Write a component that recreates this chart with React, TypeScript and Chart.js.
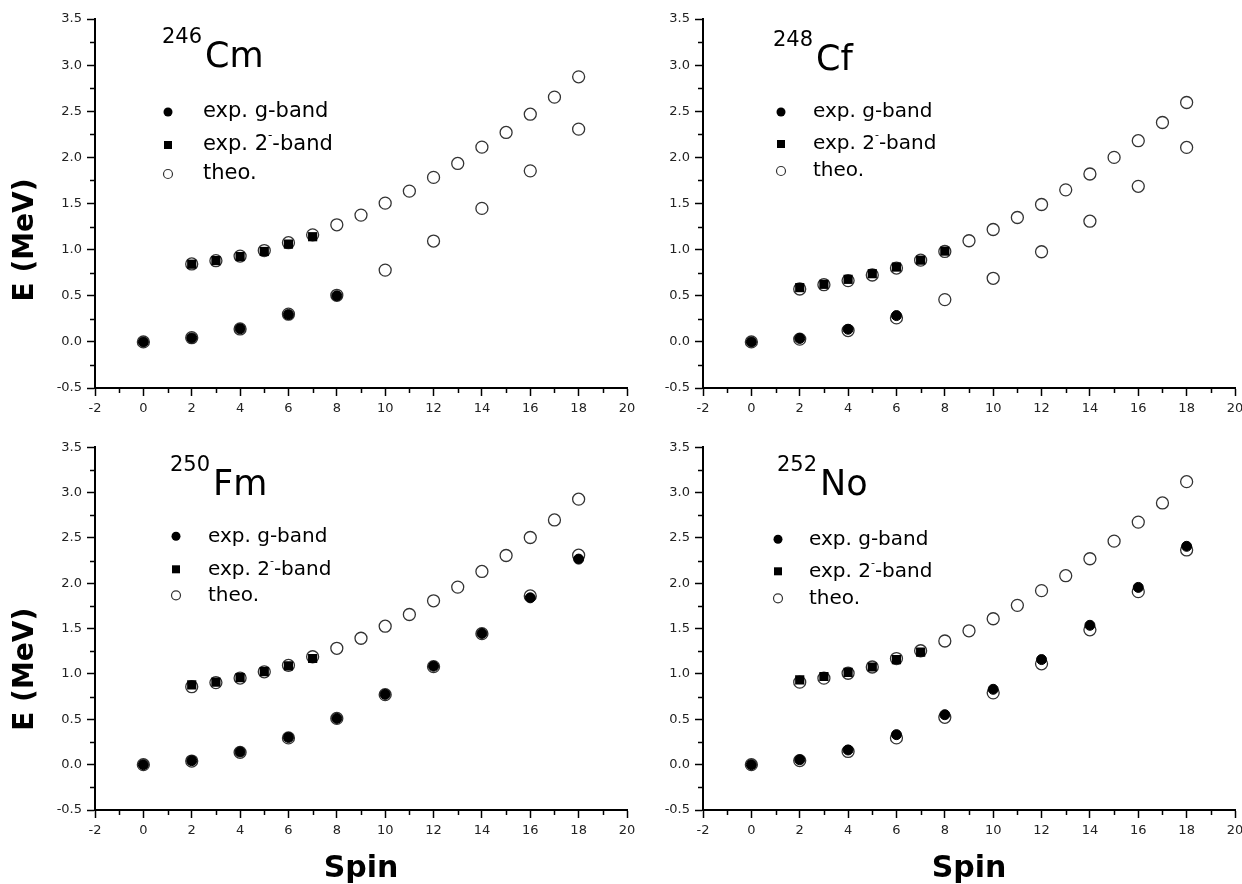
import React, { useEffect, useRef } from "react";
import { Chart, registerables } from "chart.js";

Chart.register(...registerables);

// Spin values of the two band branches
const gSpins = [0, 2, 4, 6, 8, 10, 12, 14, 16, 18];
const bandSpins = [2, 3, 4, 5, 6, 7, 8, 9, 10, 11, 12, 13, 14, 15, 16, 17, 18];

// 246Cm
const cmExpGSpins = [0, 2, 4, 6, 8];
const cmExpG = [0, 0.043, 0.142, 0.296, 0.5];
const cmExpBandSpins = [2, 3, 4, 5, 6, 7];
const cmExpBand = [0.842, 0.881, 0.925, 0.98, 1.06, 1.14];
const cmTheoG = [0, 0.045, 0.14, 0.3, 0.505, 0.778, 1.093, 1.447, 1.854, 2.306];
const cmTheoBand = [0.845, 0.88, 0.93, 0.99, 1.075, 1.16, 1.269, 1.374, 1.504, 1.634, 1.783, 1.934, 2.111, 2.27, 2.468, 2.653, 2.873];

// 248Cf
const cfExpGSpins = [0, 2, 4, 6];
const cfExpG = [0, 0.037, 0.137, 0.285];
const cfExpBandSpins = [2, 3, 4, 5, 6, 7, 8];
const cfExpBand = [0.588, 0.624, 0.678, 0.739, 0.811, 0.886, 0.984];
const cfTheoG = [0, 0.03, 0.123, 0.26, 0.458, 0.689, 0.977, 1.308, 1.686, 2.108];
const cfTheoBand = [0.573, 0.62, 0.664, 0.725, 0.8, 0.886, 0.98, 1.096, 1.218, 1.348, 1.489, 1.648, 1.82, 2.0, 2.181, 2.378, 2.595];

// 250Fm
const fmExpGSpins = [0, 2, 4, 6, 8, 10, 12, 14, 16, 18];
const fmExpG = [0, 0.044, 0.14, 0.3, 0.51, 0.775, 1.085, 1.447, 1.84, 2.267];
const fmExpBandSpins = [2, 3, 4, 5, 6, 7];
const fmExpBand = [0.88, 0.91, 0.96, 1.025, 1.09, 1.171];
const fmTheoG = [0, 0.04, 0.136, 0.295, 0.51, 0.772, 1.081, 1.445, 1.861, 2.31];
const fmTheoBand = [0.86, 0.905, 0.955, 1.024, 1.095, 1.19, 1.283, 1.394, 1.527, 1.656, 1.807, 1.958, 2.131, 2.307, 2.505, 2.699, 2.928];

// 252No
const noExpGSpins = [0, 2, 4, 6, 8, 10, 12, 14, 16, 18];
const noExpG = [0, 0.054, 0.162, 0.331, 0.551, 0.831, 1.159, 1.537, 1.955, 2.408];
const noExpBandSpins = [2, 3, 4, 5, 6, 7];
const noExpBand = [0.936, 0.972, 1.018, 1.077, 1.159, 1.242];
const noTheoG = [0, 0.045, 0.146, 0.295, 0.522, 0.792, 1.112, 1.487, 1.908, 2.368];
const noTheoBand = [0.91, 0.954, 1.008, 1.077, 1.17, 1.256, 1.364, 1.476, 1.609, 1.757, 1.919, 2.084, 2.271, 2.465, 2.675, 2.886, 3.121];

// Axis ranges and labels
const spinMin = -2;
const spinMax = 20;
const energyMin = -0.5;
const energyMax = 3.5;
const xTitle = "Spin";
const yTitle = "E (MeV)";
const legendLabels = ["exp. g-band", "exp. 2", "-band", "theo."];

const FONT = '"DejaVu Sans", "Liberation Sans", Arial, sans-serif';

const pairs = (xs: number[], ys: number[]) => xs.map((x, i) => ({ x, y: ys[i] }));

type Deco = {
  mass: string;
  symbol: string;
  titleX: number;
  titleY: number;
  legX: number;
  textX: number;
  rows: number[];
  legFont: number;
  yTitleCenter?: number;
};

type PanelProps = {
  expGSpins: number[];
  expG: number[];
  expBandSpins: number[];
  expBand: number[];
  theoG: number[];
  theoBand: number[];
  box: { left: number; top: number; width: number; height: number };
  yAxisW: number;
  xAxisH: number;
  padTop: number;
  padRight: number;
  showXTitle: boolean;
  deco: Deco;
};

// Draws minor ticks, the nucleus label, the legend box and the vertical title
const panelDecor = {
  id: "panelDecor",
  afterDraw(chart: any) {
    const opts: Deco = chart.config.options.panelDeco;
    const { ctx, chartArea } = chart;
    const { left, top, bottom } = chartArea;
    const xs = chart.scales.x;
    const ys = chart.scales.y;
    ctx.save();

    ctx.strokeStyle = "#000";
    ctx.lineWidth = 1.5;
    ctx.beginPath();
    xs.ticks.forEach((t: any) => {
      if (Math.abs(t.value % 2) > 1e-9) {
        const px = Math.round(xs.getPixelForValue(t.value)) + 0.5;
        ctx.moveTo(px, bottom);
        ctx.lineTo(px, bottom + 5);
      }
    });
    ys.ticks.forEach((t: any) => {
      const twice = t.value * 2;
      if (Math.abs(twice - Math.round(twice)) > 1e-9) {
        const py = Math.round(ys.getPixelForValue(t.value)) + 0.5;
        ctx.moveTo(left - 5, py);
        ctx.lineTo(left, py);
      }
    });
    ctx.stroke();

    // nucleus label, mass number as a superscript
    ctx.fillStyle = "#000";
    ctx.textBaseline = "alphabetic";
    ctx.textAlign = "left";
    ctx.font = `21px ${FONT}`;
    const tx = left + opts.titleX;
    const ty = top + opts.titleY;
    ctx.fillText(opts.mass, tx, ty - 24);
    const mw = ctx.measureText(opts.mass).width;
    ctx.font = `35px ${FONT}`;
    ctx.fillText(opts.symbol, tx + mw + 3, ty);

    // legend
    const mx = left + opts.legX;
    const [r1, r2, r3] = opts.rows.map((r: number) => top + r);
    ctx.fillStyle = "#000";
    ctx.beginPath();
    ctx.arc(mx, r1, 4.5, 0, Math.PI * 2);
    ctx.fill();
    ctx.fillRect(mx - 4, r2 - 4, 8, 8);
    ctx.beginPath();
    ctx.arc(mx, r3, 4.5, 0, Math.PI * 2);
    ctx.fillStyle = "#fff";
    ctx.fill();
    ctx.strokeStyle = "#333";
    ctx.lineWidth = 1.2;
    ctx.stroke();

    const lx = left + opts.textX;
    const fs = opts.legFont;
    ctx.fillStyle = "#000";
    ctx.textBaseline = "middle";
    ctx.font = `${fs}px ${FONT}`;
    ctx.fillText(legendLabels[0], lx, r1);
    ctx.fillText(legendLabels[1], lx, r2);
    const w2 = ctx.measureText(legendLabels[1]).width;
    ctx.font = `${Math.round(fs * 0.55)}px ${FONT}`;
    ctx.fillText("-", lx + w2, r2 - fs * 0.42);
    const wm = ctx.measureText("-").width;
    ctx.font = `${fs}px ${FONT}`;
    ctx.fillText(legendLabels[2], lx + w2 + wm, r2);
    ctx.fillText(legendLabels[3], lx, r3);

    if (opts.yTitleCenter !== undefined) {
      ctx.save();
      ctx.font = `bold 28px ${FONT}`;
      ctx.textAlign = "center";
      ctx.textBaseline = "middle";
      ctx.translate(26, top + opts.yTitleCenter);
      ctx.rotate(-Math.PI / 2);
      ctx.fillText(yTitle, 0, 0);
      ctx.restore();
    }
    ctx.restore();
  },
};

function Panel(p: PanelProps) {
  const ref = useRef<HTMLCanvasElement | null>(null);
  useEffect(() => {
    if (!ref.current) return;
    const theo = [...pairs(gSpins, p.theoG), ...pairs(bandSpins, p.theoBand)];
    const chart = new Chart(ref.current, {
      type: "scatter",
      data: {
        datasets: [
          {
            label: "exp. g-band",
            data: pairs(p.expGSpins, p.expG),
            pointStyle: "circle",
            pointRadius: 5,
            backgroundColor: "#000",
            borderColor: "#000",
            borderWidth: 1,
          },
          {
            label: "exp. 2- band",
            data: pairs(p.expBandSpins, p.expBand),
            pointStyle: "rect",
            pointRadius: 6.5,
            backgroundColor: "#000",
            borderColor: "#000",
            borderWidth: 0,
          },
          {
            label: "theo.",
            data: theo,
            pointStyle: "circle",
            pointRadius: 6,
            backgroundColor: "#fff",
            borderColor: "#333",
            borderWidth: 1.3,
          },
        ],
      },
      options: {
        animation: false,
        responsive: false,
        maintainAspectRatio: false,
        events: [],
        panelDeco: p.deco,
        layout: { padding: { left: 0, top: p.padTop, right: p.padRight, bottom: 0 } },
        plugins: {
          legend: { display: false },
          tooltip: { enabled: false },
        },
        scales: {
          x: {
            type: "linear",
            position: "bottom",
            min: spinMin,
            max: spinMax,
            ticks: {
              stepSize: 1,
              autoSkip: false,
              maxRotation: 0,
              padding: 5,
              color: "#222",
              font: { family: FONT, size: 13 },
              callback: (v: any) => (Number(v) % 2 === 0 ? String(v) : ""),
            },
            grid: {
              display: true,
              drawOnChartArea: false,
              drawTicks: true,
              tickLength: 8,
              tickWidth: 1.5,
              tickColor: (c: any) =>
                c.tick && Math.abs(c.tick.value % 2) < 1e-9 ? "#000" : "rgba(0,0,0,0)",
            },
            border: { display: true, color: "#000", width: 2 },
            title: {
              display: p.showXTitle,
              text: xTitle,
              color: "#000",
              font: { family: FONT, size: 30, weight: "bold" },
              padding: { top: 0, bottom: -3 },
            },
            afterFit: (s: any) => {
              s.height = p.xAxisH;
              s.paddingLeft = 0;
              s.paddingRight = 0;
            },
          },
          y: {
            type: "linear",
            min: energyMin,
            max: energyMax,
            ticks: {
              stepSize: 0.25,
              autoSkip: false,
              padding: 5,
              color: "#222",
              font: { family: FONT, size: 13 },
              callback: (v: any) => {
                const n = Number(v);
                return Math.abs(n * 2 - Math.round(n * 2)) < 1e-9 ? n.toFixed(1) : "";
              },
            },
            grid: {
              display: true,
              drawOnChartArea: false,
              drawTicks: true,
              tickLength: 8,
              tickWidth: 1.5,
              tickColor: (c: any) => {
                if (!c.tick) return "rgba(0,0,0,0)";
                const t = c.tick.value * 2;
                return Math.abs(t - Math.round(t)) < 1e-9 ? "#000" : "rgba(0,0,0,0)";
              },
            },
            border: { display: true, color: "#000", width: 2 },
            afterFit: (s: any) => {
              s.width = p.yAxisW;
              s.paddingTop = 0;
              s.paddingBottom = 0;
            },
          },
        },
      } as any,
      plugins: [panelDecor as any],
    });
    return () => chart.destroy();
  }, []);
  const { box } = p;
  return (
    <canvas
      ref={ref}
      width={box.width}
      height={box.height}
      style={{ position: "absolute", left: box.left, top: box.top, width: box.width, height: box.height }}
    />
  );
}

export default function App() {
  return (
    <div
      style={{
        position: "fixed",
        left: 0,
        top: 0,
        width: 1242,
        height: 884,
        overflow: "hidden",
        background: "#fff",
      }}
    >
      <Panel
        expGSpins={cmExpGSpins}
        expG={cmExpG}
        expBandSpins={cmExpBandSpins}
        expBand={cmExpBand}
        theoG={cmTheoG}
        theoBand={cmTheoBand}
        box={{ left: 0, top: 0, width: 640, height: 440 }}
        yAxisW={95}
        xAxisH={52}
        padTop={19}
        padRight={13}
        showXTitle={false}
        deco={{ mass: "246", symbol: "Cm", titleX: 67, titleY: 48, legX: 73, textX: 108, rows: [93, 126, 155], legFont: 21, yTitleCenter: 221 }}
      />
      <Panel
        expGSpins={cfExpGSpins}
        expG={cfExpG}
        expBandSpins={cfExpBandSpins}
        expBand={cfExpBand}
        theoG={cfTheoG}
        theoBand={cfTheoBand}
        box={{ left: 620, top: 0, width: 640, height: 440 }}
        yAxisW={83}
        xAxisH={52}
        padTop={19}
        padRight={25}
        showXTitle={false}
        deco={{ mass: "248", symbol: "Cf", titleX: 70, titleY: 51, legX: 78, textX: 110, rows: [93, 125, 152], legFont: 20 }}
      />
      <Panel
        expGSpins={fmExpGSpins}
        expG={fmExpG}
        expBandSpins={fmExpBandSpins}
        expBand={fmExpBand}
        theoG={fmTheoG}
        theoBand={fmTheoBand}
        box={{ left: 0, top: 440, width: 640, height: 444 }}
        yAxisW={95}
        xAxisH={74}
        padTop={1}
        padRight={13}
        showXTitle={true}
        deco={{ mass: "250", symbol: "Fm", titleX: 75, titleY: 48, legX: 81, textX: 113, rows: [89, 122, 148], legFont: 20, yTitleCenter: 222 }}
      />
      <Panel
        expGSpins={noExpGSpins}
        expG={noExpG}
        expBandSpins={noExpBandSpins}
        expBand={noExpBand}
        theoG={noTheoG}
        theoBand={noTheoBand}
        box={{ left: 620, top: 440, width: 640, height: 444 }}
        yAxisW={83}
        xAxisH={74}
        padTop={1}
        padRight={25}
        showXTitle={true}
        deco={{ mass: "252", symbol: "No", titleX: 74, titleY: 48, legX: 75, textX: 106, rows: [92, 124, 151], legFont: 20 }}
      />
    </div>
  );
}
